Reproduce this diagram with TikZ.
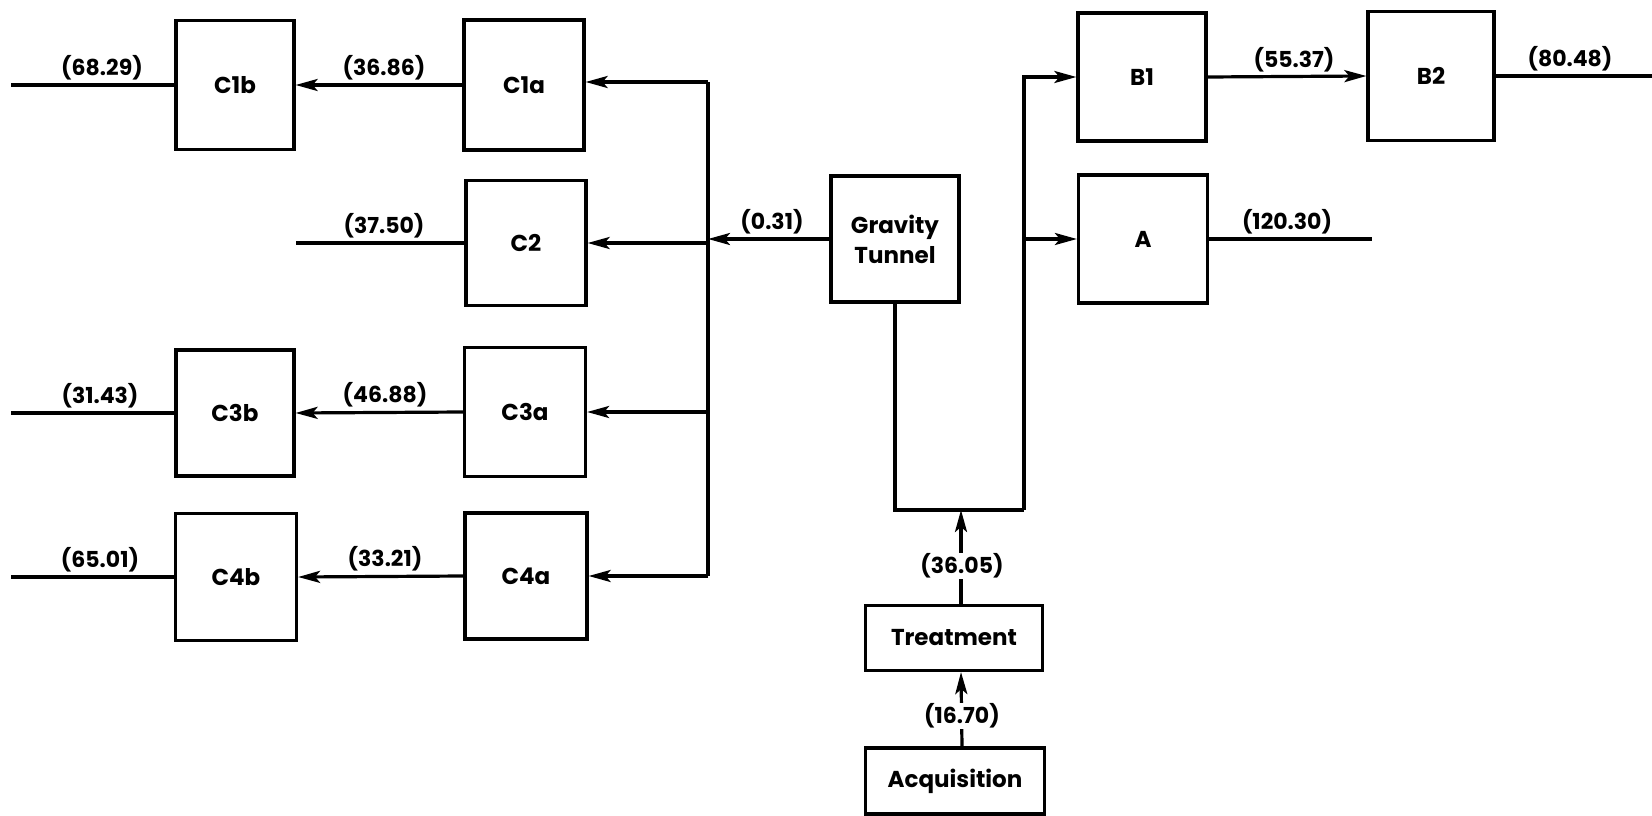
\documentclass[tikz,border=0pt]{standalone}
\usepackage{fontspec}
\setmainfont{Poppins}
\usetikzlibrary{arrows.meta,calc}
\begin{document}
\begin{tikzpicture}[x=1pt,y=-1pt,
  blk/.style={draw,line width=3.2pt,inner sep=0pt,align=center,
    font=\fontsize{23}{30}\selectfont\bfseries},
  ln/.style={line width=3.2pt},
  arr/.style={line width=3.2pt,-{Stealth[length=22pt,width=12pt,inset=5pt]}},
  lab/.style={font=\fontsize{22}{26}\selectfont\bfseries,inner sep=0pt,anchor=south},
  vlab/.style={font=\fontsize{22}{26}\selectfont\bfseries,inner sep=1pt,fill=white}]
\useasboundingbox (0,0) rectangle (1652,816);
% boxes
\node[blk,minimum width=118pt,minimum height=129pt] (C1b) at (235,85) {C1b};
\node[blk,minimum width=120pt,minimum height=130pt] (C1a) at (524,85) {C1a};
\node[blk,minimum width=120pt,minimum height=125pt] (C2) at (526,243) {C2};
\node[blk,minimum width=128pt,minimum height=126pt] (GT) at (895,239) {Gravity\\Tunnel};
\node[blk,minimum width=118pt,minimum height=126pt] (C3b) at (235,413) {C3b};
\node[blk,minimum width=121pt,minimum height=129pt] (C3a) at (525,412) {C3a};
\node[blk,minimum width=121pt,minimum height=127pt] (C4b) at (236,577) {C4b};
\node[blk,minimum width=122pt,minimum height=126pt] (C4a) at (526,576) {C4a};
\node[blk,minimum width=177pt,minimum height=65pt] (Tr) at (954,638) {Treatment};
\node[blk,minimum width=179pt,minimum height=66pt] (Acq) at (955,781) {Acquisition};
\node[blk,minimum width=128pt,minimum height=128pt] (B1) at (1142,77) {B1};
\node[blk,minimum width=126pt,minimum height=129pt] (B2) at (1431,76) {B2};
\node[blk,minimum width=129pt,minimum height=128pt] (A) at (1143,239) {A};
% free ends
\coordinate (oL) at (11,0);
\coordinate (oC2) at (296,0);
\coordinate (oR) at (1652,0);
\coordinate (oA) at (1372,0);
\coordinate (bt) at (708,82);
\coordinate (bb) at (708,576);
\coordinate (lb) at (1024,510);
% left side
\draw[ln] (C1b.west) -- (C1b.west -| oL);
\draw[arr] (C1a.west) -- (C1b.east);
\draw[ln] (C2.west) -- (C2.west -| oC2);
\draw[ln] (C3b.west) -- (C3b.west -| oL);
\draw[arr] (C3a.west) -- (C3b.east);
\draw[ln] (C4b.west) -- (C4b.west -| oL);
\draw[arr] (C4a.west) -- (C4b.east);
% bus
\draw[ln] (bt) -- (bb);
\draw[arr] (bt) -- (bt -| C1a.east);
\draw[arr] (bt |- C2.east) -- (C2.east);
\draw[arr] (bt |- C3a.east) -- (C3a.east);
\draw[arr] (bb) -- (bb -| C4a.east);
\draw[arr] (GT.west) -- (GT.west -| bt);
% right loop
\draw[ln] (GT.south) |- (lb);
\draw[arr] (lb) |- (B1.west);
\draw[arr] (lb |- A.west) -- (A.west);
\draw[arr] (B1.east) -- (B2.west);
\draw[ln] (B2.east) -- (B2.east -| oR);
\draw[ln] (A.east) -- (A.east -| oA);
% bottom
\draw[arr] ([xshift=7pt]Tr.north) -- ([xshift=7pt]Tr.north |- lb);
\draw[arr] ([xshift=7pt]Acq.north) -- ([xshift=7pt]Tr.south);
% labels
\node[lab] (l1) at (102,80) {(68.29)};
\node[lab] (l2) at (384,80) {(36.86)};
\node[lab] (l3) at (384,238) {(37.50)};
\node[lab] (l4) at (772,234) {(0.31)};
\node[lab] (l5) at (100,408) {(31.43)};
\node[lab] (l6) at (385,407) {(46.88)};
\node[lab] (l7) at (100,572) {(65.01)};
\node[lab] (l8) at (385,571) {(33.21)};
\node[vlab] (l9) at (962,566) {(36.05)};
\node[vlab] (l10) at (962,716) {(16.70)};
\node[lab] (l11) at (1294,72) {(55.37)};
\node[lab] (l12) at (1570,71) {(80.48)};
\node[lab] (l13) at (1287,234) {(120.30)};
\end{tikzpicture}
\end{document}
